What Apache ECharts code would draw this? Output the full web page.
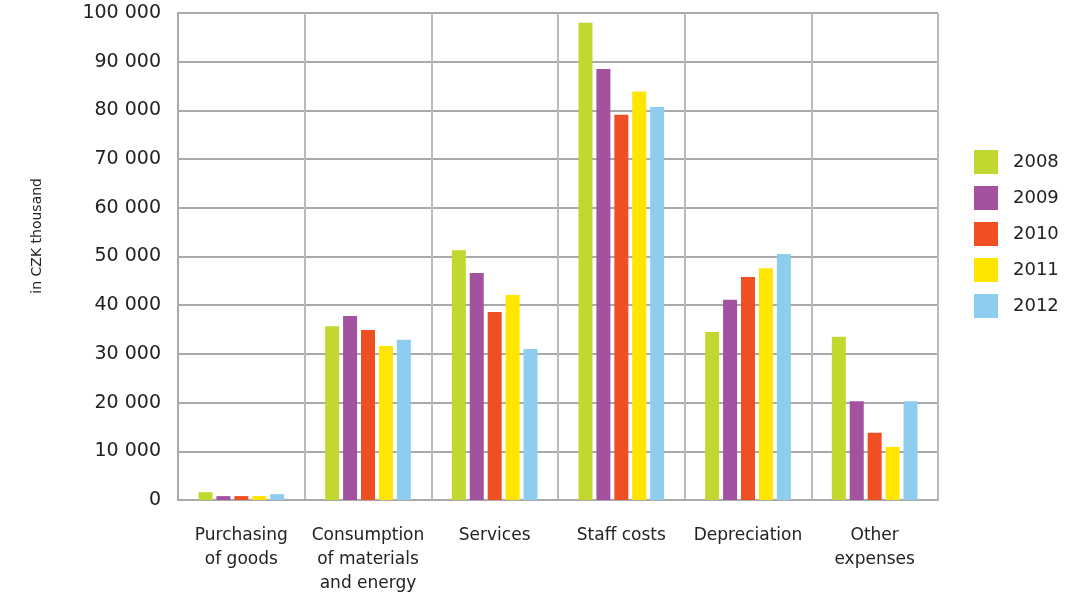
<!DOCTYPE html>
<html style="height: 100%">
   <head>
       <meta charset="utf-8">
   </head>
   <body style="height: 100%;margin: 0;background:#fff">
       <div id="container" style="height: 596px; width:1087px;"></div>
       <script type="text/javascript" src="https://cdn.jsdelivr.net/npm/echarts@6/dist/echarts.min.js"></script>
       <script type="text/javascript">

var categories = ['Purchasing\nof goods', 'Consumption\nof materials\nand energy', 'Services', 'Staff costs', 'Depreciation', 'Other\nexpenses'];
var years = ['2008', '2009', '2010', '2011', '2012'];
var colors = ['#c2d72f', '#a2529e', '#f04e23', '#ffe500', '#8ecdee'];

var v2008 = [1600, 35700, 51300, 98000, 34500, 33500];
var v2009 = [800, 37800, 46600, 88500, 41100, 20300];
var v2010 = [800, 34900, 38600, 79100, 45800, 13800];
var v2011 = [800, 31600, 42100, 83900, 47600, 10900];
var v2012 = [1200, 32900, 31000, 80700, 50500, 20300];
var values = [v2008, v2009, v2010, v2011, v2012];

var yTicks = [0, 10000, 100000];

var dom = document.getElementById("container");
var myChart = echarts.init(dom, null, {renderer: 'canvas'});
var font = 'DejaVu Sans, Verdana, sans-serif';

var series = [];
for (var i = 0; i < years.length; i++) {
    series.push({
        name: years[i],
        type: 'bar',
        data: values[i],
        barWidth: 14,
        barGap: '28%',
        itemStyle: {color: colors[i]},
        animation: false
    });
}

var option = {
    animation: false,
    grid: {left: 178, right: 149, top: 13, bottom: 96},
    // axis title sits a bit above the plot middle in the original
    graphic: [{
        type: 'text',
        left: 30,
        top: 178,
        rotation: Math.PI / 2,
        style: {text: 'in CZK thousand', font: '14px ' + font, fill: '#222'}
    }],
    legend: {
        orient: 'vertical',
        left: 969,
        top: 145,
        itemWidth: 24,
        itemHeight: 24,
        itemGap: 12,
        icon: 'rect',
        data: years,
        textStyle: {fontFamily: font, fontSize: 18, color: '#222', padding: [0, 0, 0, 10]}
    },
    xAxis: {
        type: 'category',
        data: categories,
        axisTick: {show: false},
        axisLine: {lineStyle: {color: '#aaa', width: 2}},
        axisLabel: {
            fontFamily: font, fontSize: 17, color: '#222',
            lineHeight: 24, margin: 24, interval: 0,
            verticalAlign: 'top'
        },
        splitLine: {show: true, lineStyle: {color: '#bbb', width: 2}}
    },
    yAxis: {
        type: 'value',
        min: yTicks[0],
        max: yTicks[2],
        interval: yTicks[1],
        axisLine: {show: true, lineStyle: {color: '#aaa', width: 2}},
        axisTick: {show: false},
        axisLabel: {
            fontFamily: font, fontSize: 19, color: '#222', margin: 17,
            formatter: function (v) {
                return String(v).replace(/\B(?=(\d{3})+(?!\d))/g, ' ');
            }
        },
        splitLine: {show: true, lineStyle: {color: '#8c8c8c', width: 1.5}}
    },
    series: series
};

myChart.setOption(option, true);

       </script>
   </body>
</html>
